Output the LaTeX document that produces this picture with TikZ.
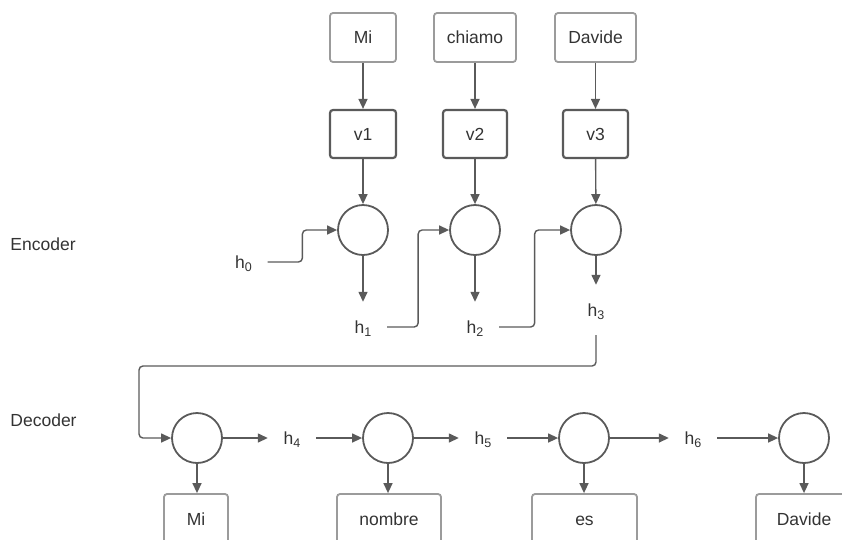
\documentclass[tikz,border=0pt]{standalone}
\usepackage{fontspec}
\setmainfont{Liberation Sans}
\usetikzlibrary{arrows.meta,calc}

\definecolor{linegray}{HTML}{5A5A5A}
\definecolor{boxgray}{HTML}{9B9B9B}
\definecolor{txtgray}{HTML}{333333}

% hidden state with a lowered index
\newcommand{\hstate}[1]{h\raisebox{-3pt}{\fontsize{12.5}{12.5}\selectfont #1}}

\begin{document}
\begin{tikzpicture}[x=1pt,y=-1pt,
  font=\fontsize{17.5}{20}\selectfont, text=txtgray,
  boxtext/.style={text height=12.5pt, text depth=0pt, inner sep=0pt},
  wordbox/.style={boxtext, draw=boxgray, line width=1.8pt, rounded corners=3pt,
    minimum height=49pt},
  embbox/.style={boxtext, draw=linegray, line width=2.2pt, rounded corners=3pt,
    minimum height=48pt},
  outbox/.style={boxtext, draw=boxgray, line width=1.8pt, rounded corners=3pt,
    minimum height=50pt},
  cell/.style={circle, draw=linegray, line width=1.8pt, minimum size=50pt, inner sep=0pt},
  hlabel/.style={minimum width=48pt, minimum height=50pt, inner sep=0pt,
    text height=12pt, text depth=0pt},
  side/.style={anchor=center},
  conn/.style={draw=linegray, line width=1.4pt, rounded corners=4pt,
    -{Triangle[length=10pt,width=9pt]}},
]
\useasboundingbox (0,0) rectangle (842,539);
\clip (0,0) rectangle (842,539);

% encoder inputs
\node[wordbox, minimum width=66pt] (w1) at (363,37.5) {Mi};
\node[wordbox, minimum width=82pt] (w2) at (475,37.5) {chiamo};
\node[wordbox, minimum width=81pt] (w3) at (595.5,37.5) {Davide};

% embeddings
\node[embbox, minimum width=66pt] (v1) at (363,134) {v1};
\node[embbox, minimum width=64pt] (v2) at (475,134) {v2};
\node[embbox, minimum width=65pt] (v3) at (595.5,134) {v3};

% encoder cells
\node[cell] (e1) at (363,230) {};
\node[cell] (e2) at (475,230) {};
\node[cell] (e3) at (596,230) {};

% encoder states
\node[hlabel] (h0) at (243.5,262) {\hstate{0}};
\node[hlabel] (h1) at (363,327) {\hstate{1}};
\node[hlabel] (h2) at (475,327) {\hstate{2}};
\node[hlabel] (h3) at (596,310) {\hstate{3}};

% decoder cells
\node[cell] (d1) at (197,438) {};
\node[cell] (d2) at (388,438) {};
\node[cell] (d3) at (584,438) {};
\node[cell] (d4) at (804,438) {};

% decoder states
\node[hlabel] (h4) at (292,438) {\hstate{4}};
\node[hlabel] (h5) at (483,438) {\hstate{5}};
\node[hlabel] (h6) at (693,438) {\hstate{6}};

% decoder outputs
\node[outbox, minimum width=64pt] (o1) at (196,519) {Mi};
\node[outbox, minimum width=104pt] (o2) at (389,519) {nombre};
\node[outbox, minimum width=105pt] (o3) at (584.5,519) {es};
\node[outbox, minimum width=96pt] (o4) at (804,519) {Davide};

% section titles
\node[side] (enc) at (43,244.5) {Encoder};
\node[side] (dec) at (43.5,420.5) {Decoder};

% input to embedding to cell
\foreach \i in {1,2,3} {
  \draw[conn] (w\i) -- (v\i);
  \draw[conn] (v\i) -- (e\i);
}
\draw[conn] (e1) -- (h1);
\draw[conn] (e2) -- (h2);
\draw[conn] (e3) -- (h3);

% recurrent links in the encoder
\coordinate (m1) at ($(h0.east)!.5!(e1.west)$);
\coordinate (m2) at ($(h1.east)!.5!(e2.west)$);
\coordinate (m3) at ($(h2.east)!.5!(e3.west)$);
\draw[conn] (h0.east) -- (h0.east -| m1) |- (e1.west);
\draw[conn] (h1.east) -- (h1.east -| m2) |- (e2.west);
\draw[conn] (h2.east) -- (h2.east -| m3) |- (e3.west);

% encoder state handed to the decoder
\coordinate (bend) at (139,366);
\draw[conn] (h3.south) |- (bend) |- (d1.west);

% decoder chain
\draw[conn] (d1) -- (h4);
\draw[conn] (h4) -- (d2);
\draw[conn] (d2) -- (h5);
\draw[conn] (h5) -- (d3);
\draw[conn] (d3) -- (h6);
\draw[conn] (h6) -- (d4);

% decoder outputs
\foreach \i in {1,2,3,4}
  \draw[conn] (d\i) -- (d\i |- o\i.north);
\end{tikzpicture}
\end{document}
